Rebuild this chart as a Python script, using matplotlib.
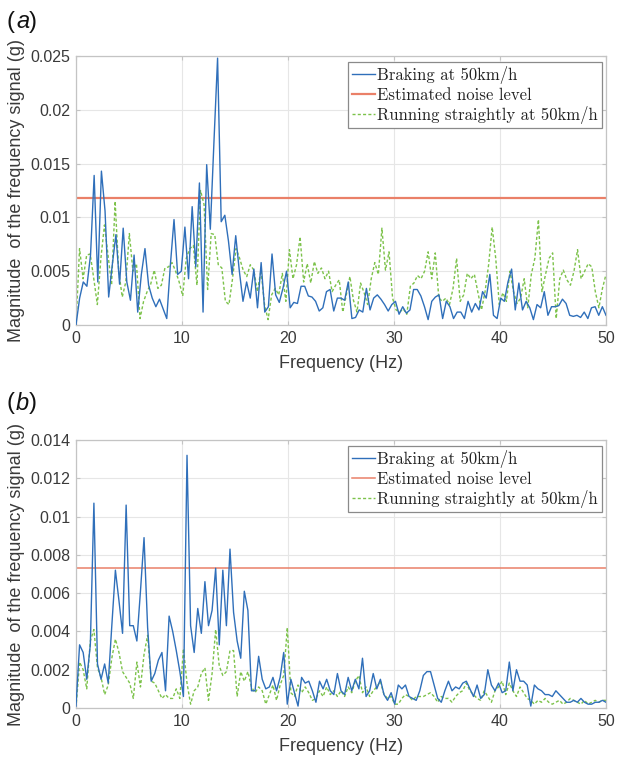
import numpy as np
import matplotlib
matplotlib.use("Agg")
import matplotlib.pyplot as plt
from matplotlib.ticker import FixedLocator

# ---- (a) spectra -----------------------------------------------------------
braking_a = [
    0, 0.0025, 0.004, 0.0036, 0.0065, 0.0139, 0.004, 0.0143, 0.0106, 0.0026,
    0.0056, 0.0084, 0.0038, 0.009, 0.004, 0.0023, 0.0065, 0.0012, 0.0047, 0.0071,
    0.0037, 0.0025, 0.0017, 0.0024, 0.0015, 0.0006, 0.0056, 0.0098, 0.0047, 0.005,
    0.0091, 0.0043, 0.011, 0.0054, 0.0132, 0.0012, 0.0149, 0.0089, 0.017, 0.0248,
    0.0096, 0.0102, 0.0078, 0.0047, 0.0083, 0.005, 0.0022, 0.004, 0.0025, 0.0052,
    0.0016,
    0.0058, 0.0012, 0.0017, 0.0066, 0.0028, 0.0021, 0.0034, 0.005, 0.0016, 0.0021,
    0.002, 0.0036, 0.0036, 0.0027, 0.0026, 0.0022, 0.0013, 0.0016, 0.0031, 0.0033,
    0.0013, 0.0025, 0.0025, 0.0023, 0.004, 0.0006, 0.0007, 0.0014, 0.0012, 0.0034,
    0.0014, 0.0025, 0.0028, 0.0024, 0.0019, 0.0013, 0.0019, 0.0022, 0.001, 0.0017,
    0.0011, 0.0014, 0.0033, 0.0033, 0.0027, 0.0017, 0.0005, 0.0022,
    0.0026, 0.0028, 0.0006, 0.0022, 0.0017, 0.0006, 0.0012, 0.0012, 0.0006, 0.0022,
    0.0012, 0.002, 0.0014, 0.0031, 0.0025, 0.0047, 0.0009, 0.0006, 0.0025, 0.0022,
    0.004, 0.0052, 0.0014, 0.0039, 0.0014, 0.0022, 0.0016, 0.0005, 0.0019, 0.0016,
    0.0031, 0.0009, 0.0017, 0.0017, 0.0018, 0.0024, 0.002, 0.0009, 0.0008, 0.0009,
    0.0007, 0.0012, 0.0006, 0.0016, 0.0017, 0.0009, 0.0017, 0.0009,
]
straight_a = [
    0, 0.0071, 0.0043, 0.0065, 0.0066, 0.0043, 0.0019, 0.0062, 0.0093, 0.0065,
    0.0037, 0.0115, 0.005, 0.0026, 0.004, 0.0085, 0.005, 0.0057, 0.0006, 0.0022,
    0.0031, 0.0038, 0.0051, 0.0034, 0.0037, 0.0053, 0.0054, 0.0058, 0.005, 0.004,
    0.0027, 0.0062, 0.0071, 0.0074, 0.0037, 0.0125, 0.0112, 0.0033, 0.0085, 0.0084,
    0.0056, 0.0053, 0.0022, 0.0019, 0.0043, 0.0071, 0.0062, 0.0051, 0.0045, 0.0056,
    0.0051,
    0.0031, 0.0051, 0.0019, 0.0005, 0.0028, 0.0034, 0.0028, 0.0048, 0.0022, 0.007,
    0.0043, 0.0056, 0.0082, 0.004, 0.0057, 0.0039, 0.0059, 0.0048, 0.0053, 0.0043,
    0.005, 0.0031, 0.0037, 0.0042, 0.0012, 0.0028, 0.0045, 0.0023, 0.0012, 0.0039,
    0.003, 0.0019, 0.0043, 0.0058, 0.0047, 0.009, 0.0051, 0.0068, 0.0025, 0.0014,
    0.0012, 0.0015, 0.001, 0.0036, 0.0039, 0.0046, 0.0043, 0.005,
    0.0068, 0.0043, 0.0067, 0.0025, 0.0022, 0.0025, 0.0019, 0.0034, 0.0062, 0.0022,
    0.0028, 0.0048, 0.0043, 0.0047, 0.003, 0.0014, 0.0031, 0.0056, 0.0091, 0.0062,
    0.0019, 0.003, 0.0022, 0.005, 0.0031, 0.002, 0.0025, 0.0043, 0.0016, 0.0047,
    0.0062, 0.0098, 0.0031, 0.0047, 0.0062, 0.0067, 0.0006, 0.0043, 0.0051, 0.0042,
    0.0037, 0.005, 0.007, 0.0043, 0.005, 0.0057, 0.0054, 0.0031, 0.0016, 0.0034,
    0.0047,
]
noise_a = 0.0118

# ---- (b) spectra -----------------------------------------------------------
braking_b = [
    0.0001, 0.0033, 0.0029, 0.0015, 0.0033, 0.0107, 0.0023, 0.0015, 0.0023, 0.0013,
    0.0043, 0.0072, 0.0056, 0.0039, 0.0106, 0.0043, 0.0043, 0.0035, 0.0061, 0.0089,
    0.0042, 0.0014, 0.0018, 0.0025, 0.0029, 0.0009, 0.0048, 0.004, 0.003, 0.0019,
    0.0006, 0.0132, 0.0043, 0.0029, 0.0052, 0.0039, 0.0066, 0.0043, 0.0051, 0.0073,
    0.0033, 0.0072, 0.0043, 0.0083, 0.005, 0.0035, 0.0026, 0.0061, 0.0051, 0.0009,
    0.0009,
    0.0027, 0.0015, 0.001, 0.0011, 0.0016, 0.0009, 0.0016, 0.0029, 0.0002, 0.0015,
    0.0008, 0.0001, 0.0016, 0.0013, 0.0014, 0.0009, 0.0003, 0.0014, 0.001, 0.0015,
    0.0009, 0.0007, 0.0018, 0.0009, 0.0007, 0.0016, 0.0009, 0.0015, 0.001, 0.0026,
    0.0006, 0.0009, 0.0018, 0.001, 0.0015, 0.0007, 0.0004, 0.0008, 0.0002, 0.0012,
    0.001, 0.0012, 0.0006, 0.0005, 0.0004, 0.0009, 0.0017, 0.0019,
    0.0019, 0.0012, 0.0005, 0.0003, 0.0009, 0.0014, 0.0009, 0.0011, 0.001, 0.0013,
    0.0014, 0.001, 0.0006, 0.0012, 0.0005, 0.0007, 0.002, 0.0012, 0.0009, 0.0013,
    0.0008, 0.0009, 0.0024, 0.0009, 0.002, 0.0014, 0.0014, 0.0012, 0.0001, 0.0012,
    0.001, 0.0009, 0.0007, 0.0007, 0.0006, 0.0009, 0.0007, 0.0005, 0.0003, 0.0003,
    0.0004, 0.0003, 0.0005, 0.0003, 0.0002, 0.0002, 0.0003, 0.0003, 0.0004, 0.0003,
]
straight_b = [
    0.0, 0.0024, 0.002, 0.001, 0.0035, 0.0041, 0.0021, 0.0016, 0.0007, 0.0012,
    0.0026, 0.0036, 0.0029, 0.0019, 0.0016, 0.0013, 0.0005, 0.0024, 0.0011, 0.0028,
    0.0038, 0.0014, 0.0013, 0.0009, 0.0005, 0.0007, 0.0005, 0.0005, 0.001, 0.0005,
    0.0031, 0.0013, 0.0002, 0.0009, 0.0011, 0.0018, 0.0021, 0.0004, 0.0018, 0.0041,
    0.0022, 0.0017, 0.0019, 0.003, 0.003, 0.0006, 0.0019, 0.0014, 0.0019, 0.0011,
    0.0008,
    0.0011, 0.0009, 0.0002, 0.0007, 0.0012, 0.0004, 0.0012, 0.0017, 0.0042, 0.0008,
    0.0006, 0.0012, 0.0008, 0.0011, 0.0008, 0.0004, 0.0005, 0.0009, 0.0006, 0.0011,
    0.0007, 0.0009, 0.0006, 0.0009, 0.0006, 0.0011, 0.0008, 0.0014, 0.0017, 0.0008,
    0.0011, 0.0006, 0.0009, 0.0011, 0.0014, 0.0007, 0.0005, 0.0006, 0.0002, 0.0002,
    0.0005, 0.0007, 0.0006, 0.0004, 0.0006, 0.0006, 0.0006, 0.0007,
    0.0008, 0.0006, 0.0003, 0.0006, 0.0005, 0.0005, 0.0003, 0.0006, 0.0008, 0.0009,
    0.0013, 0.0009, 0.0007, 0.0005, 0.0004, 0.0009, 0.0006, 0.0003, 0.0009, 0.0011,
    0.0014, 0.0007, 0.0013, 0.0009, 0.0006, 0.0011, 0.0008, 0.0005, 0.0004, 0.0002,
    0.0004, 0.0003, 0.0005, 0.0003, 0.0002, 0.0003, 0.0004, 0.0002, 0.0003, 0.0005,
    0.0004, 0.0003, 0.0002, 0.0004, 0.0002, 0.0003, 0.0004, 0.0003, 0.0004, 0.0004,
]
noise_b = 0.0073

x_ticks = [0, 10, 20, 30, 40, 50]
y_ticks_a = [0, 0.005, 0.01, 0.015, 0.02, 0.025]
y_labels_a = ["0", "0.005", "0.01", "0.015", "0.02", "0.025"]
y_ticks_b = [0, 0.002, 0.004, 0.006, 0.008, 0.01, 0.012, 0.014]
y_labels_b = ["0", "0.002", "0.004", "0.006", "0.008", "0.01", "0.012", "0.014"]

legend_labels = ["Braking at 50km/h", "Estimated noise level",
                 "Running straightly at 50km/h"]

BLUE = "#2f6fba"
RED = "#ea8068"
GREEN = "#7cc24a"
FRAME = "#c4c4c4"
TXT = "#3a3a3a"

plt.rcParams["font.family"] = ["Liberation Sans", "DejaVu Sans"]
plt.rcParams["axes.unicode_minus"] = False

fig = plt.figure(figsize=(6.17, 7.61), dpi=100)
W, H = 617, 761


def make_axes(top, bottom):
    return fig.add_axes([76 / W, (H - bottom) / H, 530 / W, (bottom - top) / H])


def draw_panel(ax, braking, straight, noise, yticks, ylabels, ymax, noise_lw, legend_top):
    fb = np.linspace(0, 50, len(braking))
    fs = np.linspace(0, 50, len(straight))
    h1, = ax.plot(fb, braking, color=BLUE, lw=1.0, zorder=3)
    h2 = ax.axhline(noise, color=RED, lw=noise_lw, zorder=2)
    h3, = ax.plot(fs, straight, color=GREEN, lw=1.0, ls=(0, (2.2, 1.6)), zorder=2.5)
    ax.set_xlim(0, 50)
    ax.set_ylim(0, ymax)
    ax.xaxis.set_major_locator(FixedLocator(x_ticks))
    ax.set_xticklabels([str(t) for t in x_ticks])
    ax.set_yticks(yticks)
    ax.set_yticklabels(ylabels)
    ax.grid(True, color="#e6e6e6", lw=0.8)
    ax.set_axisbelow(True)
    for s in ax.spines.values():
        s.set_color(FRAME)
        s.set_linewidth(0.9)
    ax.tick_params(direction="in", length=3, color=FRAME, labelsize=11.5,
                   labelcolor=TXT, pad=4, top=True, right=True)
    ax.set_xlabel("Frequency (Hz)", fontsize=13, color=TXT, labelpad=7)
    ax.set_ylabel("Magnitude  of the frequency signal (g)", fontsize=13,
                  color=TXT, labelpad=4)
    leg = ax.legend([h1, h2, h3], legend_labels, loc="upper right",
                    bbox_to_anchor=(602 / W, 1 - legend_top / H), bbox_transform=fig.transFigure,
                    prop={"family": "cmr10", "size": 12}, frameon=True, fancybox=False,
                    edgecolor="#8a8a8a", framealpha=1, handlelength=1.35,
                    handletextpad=0.15, labelspacing=0.2, borderpad=0.25,
                    borderaxespad=0)
    leg.get_frame().set_linewidth(0.9)
    for t in leg.get_texts():
        t.set_color("#222222")
    return ax


ax_a = make_axes(56, 325)
draw_panel(ax_a, braking_a, straight_a, noise_a, y_ticks_a, y_labels_a, 0.025, 1.6, 62)
ax_b = make_axes(440, 708)
draw_panel(ax_b, braking_b, straight_b, noise_b, y_ticks_b, y_labels_b, 0.014, 1.1, 446)

for tag, ypix in (("a", 22), ("b", 403)):
    fig.text(7 / W, 1 - ypix / H, "(", fontsize=17, color="#111111", va="center", ha="left")
    fig.text(16 / W, 1 - ypix / H, tag, fontsize=17, style="italic", color="#111111",
             va="center", ha="left")
    fig.text(29 / W, 1 - ypix / H, ")", fontsize=17, color="#111111", va="center", ha="left")

fig.savefig("out.png", dpi=100, facecolor="white")
